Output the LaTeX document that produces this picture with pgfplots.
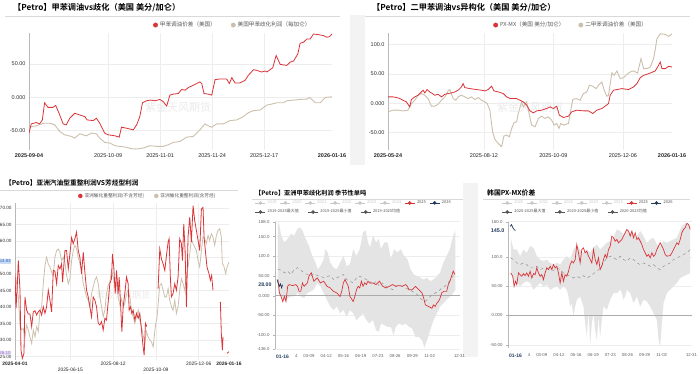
\documentclass[border=0pt]{standalone}
\usepackage{pgfplots}
\pgfplotsset{compat=1.18}
\usepackage{fontspec}
\setmainfont{Liberation Sans}
\newfontfamily\cjk{Noto Sans CJK SC}
\IfFontExistsTF{Noto Sans CJK SC Bold}
  {\newfontfamily\cjkb{Noto Sans CJK SC Bold}}
  {\newfontfamily\cjkb{Noto Sans CJK SC}[FakeBold=2]}
\definecolor{myred}{RGB}{218,52,56}
\definecolor{mybeige}{RGB}{204,192,172}
\definecolor{navy}{RGB}{36,60,92}
\definecolor{lgray}{RGB}{200,200,200}
\definecolor{dgray}{RGB}{85,85,85}
\definecolor{bandc}{RGB}{228,228,228}
\definecolor{stripc}{RGB}{243,243,243}
\definecolor{hlblue}{RGB}{200,220,246}
\definecolor{hlbluet}{RGB}{50,100,190}
\definecolor{hlpur}{RGB}{232,222,246}
\definecolor{hlpurt}{RGB}{150,120,200}
\newcommand{\fs}[1]{\fontsize{#1}{#1}\selectfont}
\setlength{\fboxsep}{0.7pt}
\pgfplotsset{
  base/.style={scale only axis, anchor=south west, enlargelimits=false,
    axis lines*=left, x axis line style={draw=none},
    y axis line style={draw=gray!55, line width=0.8pt},
    legend columns=-1, legend cell align=left,
    legend image code/.code={\fill[##1] (2.2pt,0pt) circle (2.2pt);},
    legend style={draw=none, fill=none, inner sep=0pt},
    major grid style={draw=gray!14, line width=0.5pt},
  },
  seas/.style={base, xmin=0, xmax=365,
    tick align=outside, major tick length=2pt,
    xtick style={draw=none}, ytick style={draw=gray!60, line width=0.4pt},
    xtick={15,42,67,101,135,169,203,237,271,305,364},
    xticklabels={\textcolor{navy}{\bfseries\fs{5}01-16},4,03-09,04-12,05-16,06-19,07-23,08-26,09-29,11-02,12-31},
    xticklabel style={font=\fs{4.3}, text=gray!75!black},
    yticklabel style={font=\fs{4.3}, text=gray!75!black},
    extra y tick style={grid=none, major tick length=0pt},
    ymajorgrids,
    legend image code/.code={\draw[##1, line width=0.5pt] (0pt,0pt) -- (10pt,0pt); \fill[##1] (5pt,0pt) circle (1.6pt);},
    legend style={font=\cjk\fs{4}, /tikz/every even column/.append style={column sep=1.5pt}},
  },
  hid/.style={scale only axis, anchor=south west, hide axis, xmin=0, xmax=1, ymin=0, ymax=1,
    legend columns=-1, legend cell align=left,
    legend image code/.code={\draw[##1, line width=0.5pt] (0pt,0pt) -- (10pt,0pt); \fill[##1] (5pt,0pt) circle (1.6pt);},
    legend style={draw=none, fill=none, inner sep=0pt, font=\cjk\fs{4}, text=dgray, /tikz/every even column/.append style={column sep=7pt}},
  },
}
\begin{document}
\begin{tikzpicture}[x=1pt,y=1pt]
\useasboundingbox (0,0) rectangle (700,373);
\fill[white] (0,0) rectangle (700,373);
\fill[stripc] (350,208) rectangle (365,358);
\fill[stripc] (463,16) rectangle (478,190);
% titles and rules
\node[anchor=west, font=\cjkb\fs{8.2}, inner sep=0pt] at (13,365) {【Petro】甲苯调油vs歧化（美国 美分/加仑）};
\draw[gray!30, line width=0.6pt] (5,357) -- (340,357);
\node[anchor=west, font=\cjkb\fs{8.2}, inner sep=0pt] at (372,365) {【Petro】二甲苯调油vs异构化（美国 美分/加仑）};
\draw[gray!30, line width=0.6pt] (365,357) -- (690,357);
\node[anchor=west, font=\cjkb\fs{6.7}, inner sep=0pt] at (5,190) {【Petro】亚洲汽油型重整利润VS芳烃型利润};
\draw[gray!30, line width=0.6pt] (0,183) -- (238,183);
\node[anchor=west, font=\cjkb\fs{6.2}, inner sep=0pt] at (255,180) {【Petro】亚洲甲苯歧化利润 季节性单吨};
\draw[gray!30, line width=0.6pt] (252,174) -- (463,174);
\node[anchor=west, font=\cjkb\fs{6.8}, inner sep=0pt] at (487,180) {韩国PX-MX价差};
\draw[gray!30, line width=0.6pt] (483,174) -- (690,174);
% watermarks
\node[font=\cjk\fs{11}, text=gray!16] at (178,266) {紫金天风期货};
\node[font=\cjk\fs{11}, text=gray!16] at (530,266) {紫金天风期货};
\node[font=\cjk\fs{9}, text=gray!16] at (123,78) {紫金天风期货};
\node[font=\cjk\fs{9}, text=gray!16] at (357,96) {紫金天风期货};
\node[font=\cjk\fs{9}, text=gray!16] at (587,96) {紫金天风期货};

% ---------------- Panel 1
\begin{axis}[base, at={(29pt,223pt)}, width=303pt, height=117pt,
  xmin=0, xmax=134, ymin=-80, ymax=97,
  major tick length=0pt,
  xtick={35,58,81,104},
  xticklabels={2025-10-09,2025-11-01,2025-11-24,2025-12-17},
  extra x ticks={0,134},
  extra x tick labels={\textbf{2025-09-04},\textbf{2026-01-16}},
  extra x tick style={grid=none},
  ytick={-50,0,50}, yticklabels={-50.00,0.000,50.00},
  xmajorgrids, ymajorgrids,
  xticklabel style={font=\fs{5.5}, text=black!85},
  yticklabel style={font=\fs{5.5}, text=black!80},
  legend style={at={(0.409,1.068)}, anchor=west, font=\cjk\fs{5.6}, text=black!65,
    /tikz/every even column/.append style={column sep=13pt}},
]
\addlegendimage{myred}\addlegendentry{甲苯调油价差（美国）}
\addlegendimage{mybeige}\addlegendentry{美国甲苯歧化利润（每加仑）}
\addplot[mybeige, line width=0.9pt, forget plot] coordinates {
(0,-47) (1.0,-44.5) (3.2,-43.5) (5.5,-40.5) (6.9,-39.5) (9.2,-39.5) (11.4,-42) (13.6,-52) (15.8,-57) (18.8,-59.5) (20.2,-62) (22.5,-55.5) (23.9,-57) (25.4,-58.5) (27.6,-54.5) (29.8,-55.5) (31.3,-62) (33.5,-68.5) (35.7,-69.5) (38.0,-73.5) (40.2,-74.5) (42.4,-75.5) (45.3,-78) (47.6,-78.5) (50.5,-77) (53.5,-73.5) (56.4,-74.5) (59.4,-74.5) (61.6,-72) (63.8,-68.5) (66.8,-67) (69.7,-60.5) (72.7,-59.5) (75.6,-49.5) (77.8,-40.5) (79.3,-43.5) (80.8,-45.5) (83.0,-40.5) (86.0,-40.5) (88.9,-35.5) (91.9,-34.5) (94.8,-29.5) (97.0,-23.5) (99.3,-20.5) (102.2,-19.5) (105.2,-12) (107.4,-10.5) (109.6,-8.5) (112.5,-8.5) (114.0,-5.5) (117.0,-4.5) (119.9,-3.5) (122.9,-3) (124.1,-0.5) (125.1,-3.5) (126.6,-8.5) (128.8,-8.5) (131.0,-0.5) (134.0,0.5)};
\addplot[myred, line width=0.8pt, forget plot] coordinates {
(0,-54.5) (1.0,-40.5) (3.2,-38.5) (4.7,-40.5) (5.9,-34.5) (6.9,-8.5) (8.4,-15.5) (10.6,-15.5) (11.8,-12.5) (13.3,-24.5) (15.1,-40.5) (16.5,-42) (18.0,-32) (20.2,-24.5) (22.5,-27) (24.7,-29.5) (25.7,-34.5) (28.4,-35.5) (29.8,-32) (31.3,-39.5) (33.5,-54.5) (35.0,-57) (38.0,-58.5) (39.9,-60.5) (40.9,-45.5) (43.1,-47) (46.1,-49.5) (47.6,-42) (49.0,-29.5) (50.2,-8.5) (52.0,-5.5) (53.8,-4.5) (55.7,-5.5) (57.9,-3.5) (59.4,-7) (60.9,-13.5) (62.3,3) (63.8,4.5) (66.0,5.5) (67.5,11.5) (69.0,10.5) (70.5,14.5) (72.7,18) (74.1,20.5) (75.6,23) (76.4,20.5) (77.4,5.5) (79.3,4.5) (80.8,3) (82.3,26.5) (84.5,27.5) (87.4,27.5) (88.6,20.5) (89.7,29.5) (91.1,21.5) (93.3,21.5) (95.6,25.5) (97.0,33) (99.3,41.5) (100.7,40.5) (102.9,38) (104.4,39.5) (105.2,38) (106.6,41.5) (107.8,44.5) (109.3,63) (111.1,49.5) (114.0,48) (115.5,53) (117.0,54.5) (118.9,65.5) (119.9,81.5) (121.4,83) (122.9,88) (124.4,88) (125.8,95.5) (128.1,94.5) (130.3,93) (131.7,90.5) (132.9,91.5) (134.0,95.5)};
\end{axis}

% ---------------- Panel 2
\begin{axis}[base, at={(388pt,223pt)}, width=284pt, height=117pt,
  xmin=0, xmax=237, ymin=-80, ymax=120,
  major tick length=0pt,
  xtick={80,138,196},
  xticklabels={2025-08-12,2025-10-09,2025-12-06},
  extra x ticks={0,237},
  extra x tick labels={\textbf{2025-05-24},\textbf{2026-01-16}},
  extra x tick style={grid=none},
  ytick={-50,0,50,100}, yticklabels={-50.00,0.000,50.00,100.0},
  xmajorgrids, ymajorgrids,
  xticklabel style={font=\fs{5.5}, text=black!85},
  yticklabel style={font=\fs{5.5}, text=black!80},
  legend style={at={(0.370,1.068)}, anchor=west, font=\cjk\fs{5.6}, text=black!65,
    /tikz/every even column/.append style={column sep=12pt}},
]
\addlegendimage{myred}\addlegendentry{PX-MX（美国 美分/加仑）}
\addlegendimage{mybeige}\addlegendentry{二甲苯调油价差（美国）}
\addplot[mybeige, line width=0.9pt, forget plot] coordinates {
(0,-14.8) (4.2,-11.9) (8.4,-11.9) (12.5,-13.1) (16.7,-11.9) (19.5,-0.6) (22.3,5.1) (25.1,13.6) (27.9,16.5) (30.7,13.6) (33.5,8.0) (36.2,-5.1) (39.0,-5.1) (41.8,-1.7) (44.6,5.1) (47.4,10.8) (50.2,21.0) (51.6,23.3) (54.4,8.0) (56.6,5.1) (58.5,10.8) (61.3,13.6) (64.1,10.8) (66.9,8.0) (69.7,10.8) (72.5,6.2) (75.3,9.7) (78.1,5.1) (80.9,2.3) (82.8,-0.6) (85.0,-11.9) (87.3,-48.8) (89.2,-61.9) (92.0,-68.7) (94.8,-74.4) (96.7,-56.2) (99.0,-54.5) (101.2,-57.4) (103.2,-43.2) (105.1,-33.5) (107.3,-31.8) (108.7,-17.6) (111.5,2.3) (112.9,-6.2) (115.7,2.3) (117.1,-11.9) (119.9,-37.5) (122.7,-40.3) (125.5,-26.1) (128.2,-22.2) (131.0,-26.1) (133.8,-23.3) (136.6,-29.0) (138.6,-37.5) (140.8,-34.6) (142.7,-43.2) (144.1,-34.6) (146.4,-37.5) (150.6,-34.6) (152.5,-11.9) (154.2,6.2) (157.0,8.0) (160.3,5.1) (163.1,16.5) (165.9,19.3) (168.1,30.7) (170.9,29.0) (173.7,25.0) (175.6,30.7) (178.4,36.4) (180.4,22.2) (182.6,11.9) (184.0,13.6) (186.8,51.7) (188.7,47.7) (191.0,55.1) (193.8,42.0) (196.6,43.7) (199.3,49.4) (202.1,53.4) (204.9,55.1) (208.3,51.7) (211.1,76.1) (213.3,59.1) (216.1,59.1) (218.9,61.9) (221.6,76.1) (223.0,91.4) (224.4,110.2) (227.2,118.7) (231.4,117.6) (234.2,114.2) (237.0,118.7)};
\addplot[myred, line width=0.8pt, forget plot] coordinates {
(0,10.8) (4.2,10.8) (7.0,9.7) (9.8,8.0) (12.5,5.1) (15.3,2.3) (18.1,-6.2) (19.5,6.2) (22.3,10.8) (25.1,13.6) (27.0,17.6) (29.3,22.2) (30.7,17.6) (32.6,23.3) (34.8,19.3) (37.1,16.5) (39.0,13.6) (41.8,15.3) (44.6,10.8) (47.4,15.3) (50.2,16.5) (53.0,17.6) (55.8,19.3) (58.5,22.2) (61.3,27.8) (62.7,33.5) (64.1,26.7) (68.3,25.0) (73.9,23.3) (78.1,22.2) (80.9,21.0) (83.6,23.3) (86.4,29.0) (88.4,21.0) (92.0,19.3) (96.2,16.5) (99.0,10.8) (101.8,8.0) (107.3,8.0) (110.1,5.1) (112.9,2.3) (115.7,-3.4) (118.5,-13.1) (121.3,-16.5) (124.1,-13.1) (128.2,-11.9) (132.4,-9.1) (135.2,-6.2) (138.0,-9.1) (140.8,-5.1) (143.0,-20.4) (146.4,-24.4) (150.6,-22.2) (153.3,-14.8) (157.5,-11.9) (163.1,-13.1) (167.3,-13.1) (170.9,-17.6) (174.3,-11.9) (178.4,-9.1) (181.2,-5.1) (184.0,-0.6) (185.4,13.6) (188.2,22.2) (191.0,23.3) (195.2,25.0) (200.7,23.3) (204.9,27.8) (207.7,33.5) (210.5,43.7) (213.3,47.7) (216.1,49.4) (218.9,51.7) (223.0,55.1) (225.8,64.8) (227.2,70.4) (228.6,59.1) (231.4,59.1) (234.2,63.0) (237.0,61.9)};
\end{axis}

% ---------------- Panel 3
\begin{axis}[base, at={(15pt,13pt)}, width=214pt, height=157pt,
  xmin=0, xmax=290, ymin=24, ymax=71.5,
  major tick length=0pt,
  xtick={75,133,191,249},
  xticklabels={{\rule{0pt}{3.6pt}\\2025-06-15},2025-08-12,{\rule{0pt}{3.6pt}\\2025-10-09},2025-12-06},
  extra x ticks={0,290},
  extra x tick labels={\textbf{2025-04-01},\textbf{2026-01-16}},
  extra x tick style={grid=none},
  ytick={25,30,35,40,45,50,55,60,65,70},
  yticklabels={25.00,30.00,35.00,40.00,45.00,50.00,,60.00,65.00,70.00},
  extra y ticks={53.83,26.1},
  extra y tick labels={{\colorbox{hlblue}{\textcolor{hlbluet}{53.83}}},{\colorbox{hlpur}{\textcolor{hlpurt}{26.10}}}},
  extra y tick style={grid=none},
  xmajorgrids, ymajorgrids,
  xticklabel style={font=\fontsize{4.9}{6.2}\selectfont, text=black!85, align=center, inner sep=1.8pt},
  yticklabel style={font=\fs{4.6}, text=black!80},
  legend style={at={(0.294,1.045)}, anchor=west, font=\cjk\fs{4.7}, text=black!65,
    /tikz/every even column/.append style={column sep=8pt}},
  legend image code/.code={\fill[#1] (2pt,0pt) circle (2pt);},
  unbounded coords=jump,
]
\addlegendimage{myred}\addlegendentry{亚洲催化重整利润(不含芳烃)}
\addlegendimage{mybeige}\addlegendentry{亚洲催化重整利润(含芳烃)}
\addplot[mybeige, line width=0.8pt, forget plot] coordinates {
(0,50.1) (2.3,47.1) (4.5,43.1) (6.8,34.1) (9.0,33.1) (11.3,33.6) (13.5,31.0) (15.8,34.6) (18.0,33.1) (20.3,31.0) (22.6,29.0) (24.8,33.1) (27.1,31.0) (29.3,34.1) (31.6,32.6) (33.8,38.6) (36.1,40.1) (38.3,47.1) (40.6,52.6) (42.8,55.1) (45.1,53.1) (47.4,52.1) (49.6,50.6) (51.9,49.6) (54.1,55.1) (56.4,57.1) (58.6,57.6) (60.9,56.6) (63.1,54.1) (65.4,55.1) (67.7,53.6) (69.9,49.6) (72.2,47.1) (74.4,48.6) (76.7,54.1) (78.9,57.1) (81.2,58.7) (83.4,57.7) (85.7,55.1) (87.9,53.1) (90.2,51.1) (92.5,47.1) (94.7,45.1) (97.0,43.1) (99.2,42.1) (101.5,40.1) (103.7,44.1) (106.0,46.1) (108.2,48.1) (110.5,49.1) (112.8,47.1) (115.0,43.1) (117.3,40.1) (119.5,37.1) (121.8,39.1) (124.0,44.1) (126.3,46.6) (128.5,47.6) (130.8,51.1) (133.0,49.1) (135.3,46.1) (137.6,47.1) (139.8,43.1) (142.1,40.6) (144.3,42.6) (146.6,40.1) (148.8,41.1) (151.1,44.1) (153.3,45.1) (155.6,43.1) (157.9,39.1) (160.1,37.1) (162.4,35.1) (164.6,37.1) (166.9,39.1) (169.1,36.1) (171.4,34.1) (173.6,31.5) (175.9,29.0) (178.1,32.6) (180.4,31.0) (182.7,30.0) (184.9,29.5) (187.2,28.0) (189.4,32.6) (190.8,35.1) (192.6,37.1) (194.4,42.1) (196.2,46.6) (198.4,47.1) (200.7,45.1) (203.0,43.1) (205.2,43.1) (207.5,45.6) (209.7,42.1) (212.0,40.1) (214.2,39.1) (216.5,42.1) (218.7,38.1) (221.0,40.1) (223.2,45.1) (225.5,48.6) (227.8,47.1) (230.0,45.1) (232.3,49.1) (234.5,52.1) (236.8,56.1) (239.0,60.7) (241.3,59.2) (243.5,58.2) (245.8,57.1) (248.1,54.1) (250.3,52.1) (252.6,57.1) (254.8,61.2) (257.1,60.7) (259.3,59.2) (261.6,61.7) (263.8,60.2) (266.1,62.2) (268.3,61.2) (270.6,58.7) (272.9,61.7) (275.1,63.2) (277.4,63.7) (279.6,61.2) (281.0,53.1) (282.8,52.6) (285.5,50.1) (287.3,52.1) (290.0,53.6)};
\addplot[myred, line width=0.8pt, forget plot] coordinates {
(0,50.1) (1.4,39.6) (3.2,47.1) (4.5,54.1) (6.8,45.1) (8.1,27.0) (9.9,24.5) (12.2,26.0) (13.5,43.1) (15.8,39.1) (18.0,37.9) (20.3,37.9) (22.6,34.1) (24.8,38.6) (27.1,38.9) (29.3,37.6) (31.6,38.6) (33.8,39.1) (36.1,37.6) (38.3,40.1) (40.6,38.1) (42.8,40.1) (45.1,45.1) (47.4,42.1) (49.6,38.6) (51.9,51.1) (54.1,50.9) (56.4,47.1) (58.6,52.6) (60.9,51.6) (63.1,53.1) (64.5,47.6) (67.7,57.1) (69.9,57.1) (72.2,51.6) (74.4,56.1) (76.7,61.0) (78.9,59.2) (81.2,60.7) (83.4,62.7) (85.7,57.1) (87.9,55.1) (90.2,50.1) (92.5,56.6) (94.7,50.6) (97.0,45.1) (99.2,43.1) (101.5,40.1) (103.7,37.1) (106.0,43.1) (108.2,42.1) (110.5,40.1) (112.8,35.1) (115.0,34.6) (117.3,35.6) (119.5,33.1) (121.8,36.6) (124.0,36.1) (126.3,41.6) (128.5,47.1) (130.8,48.6) (132.1,56.1) (133.9,52.1) (135.8,44.1) (137.6,51.1) (139.8,44.1) (141.2,49.1) (143.0,41.1) (144.8,32.6) (146.6,40.1) (148.8,44.1) (151.1,49.1) (153.3,47.1) (154.7,39.1) (156.5,40.1) (158.3,38.1) (160.1,39.1) (162.4,36.1) (164.6,38.1) (166.9,36.6) (169.1,38.1) (171.4,33.1) (173.6,28.0) (175.0,25.5) (176.8,35.1) (178.6,34.1) (185,nan) (193.9,45.6) (196.2,57.6) (198.4,54.6) (200.7,53.1) (203.0,51.1) (205.2,55.6) (207.5,59.7) (208.8,60.7) (210.6,48.6) (212.0,43.1) (214.2,44.1) (216.5,47.1) (218.7,45.1) (221.0,49.1) (223.2,60.7) (225.5,59.2) (226.9,54.1) (228.7,65.2) (230.5,57.1) (232.3,40.1) (234.5,61.2) (236.8,67.2) (239.0,59.7) (241.3,70.7) (243.5,66.2) (245.8,63.2) (248.1,60.2) (250.3,57.1) (252.6,69.7) (254.8,70.2) (256.2,61.2) (258.4,56.1) (260.2,52.1) (262.9,50.1) (264.7,48.1) (266.5,49.6) (268.3,45.1) (273,nan) (278.3,41.6) (279.6,32.0) (281.0,27.0) (281.9,31.0) (284,nan) (287.3,26.0) (290.0,26.5)};
\end{axis}

% ---------------- Panel 4
\begin{axis}[seas, at={(275pt,23.7pt)}, width=185pt, height=127.6pt,
  ymin=-136, ymax=188,
  ytick={-136,-100,-50,0,50,100,150,188},
  yticklabels={-136.0,-100.0,-50.00,0.000,50.00,100.0,150.0,188.0},
  extra y ticks={28}, extra y tick labels={\textcolor{navy}{\bfseries\fs{5.2}28.00}},
  legend style={at={(-0.108,1.147)}, anchor=west},
]
\addlegendimage{lgray}\addlegendentry{\textcolor{lgray}{2019}}
\addlegendimage{lgray}\addlegendentry{\textcolor{lgray}{2020}}
\addlegendimage{lgray}\addlegendentry{\textcolor{lgray}{2021}}
\addlegendimage{lgray}\addlegendentry{\textcolor{lgray}{2022}}
\addlegendimage{lgray}\addlegendentry{\textcolor{lgray}{2023}}
\addlegendimage{lgray}\addlegendentry{\textcolor{lgray}{2024}}
\addlegendimage{myred}\addlegendentry{\textcolor{dgray}{2025}}
\addlegendimage{navy}\addlegendentry{\textcolor{dgray}{2026}}
% range band: 2019-2025 max (forward) then min (backward)
\addplot[fill=bandc, draw=none, forget plot] coordinates {
(5.6,188) (8.8,178.4) (12.0,152.7) (18.5,135.5) (25.0,144.1) (31.4,156.9) (37.9,152.7) (44.4,169.8) (49.5,173.2) (54.1,165.5) (60.5,144.1) (67.0,126.9) (73.5,101.2) (79.9,84.0) (84.5,66.9) (89.6,75.5) (96.1,92.6) (99.3,118.4) (103.8,109.8) (109.0,84.0) (115.5,71.2) (121.9,66.9) (128.4,84.0) (134.9,101.2) (141.3,75.5) (147.8,79.8) (154.3,118.4) (160.8,101.2) (167.2,118.4) (173.7,161.2) (178.9,165.5) (183.4,135.5) (187.9,122.6) (193.1,152.7) (199.5,135.5) (204.7,144.1) (209.2,118.4) (215.7,135.5) (222.2,135.5) (228.7,92.6) (235.1,118.4) (241.6,109.8) (248.1,118.4) (254.5,101.2) (261.0,92.6) (267.5,66.9) (274.0,54.0) (280.4,49.7) (286.9,45.5) (293.4,41.2) (299.8,45.5) (306.3,36.9) (312.8,41.2) (319.3,49.7) (325.7,58.3) (332.2,84.0) (338.7,101.2) (345.1,118.4) (351.6,152.7) (356.1,165.5)
(356.1,15.4) (351.6,6.9) (345.1,-1.7) (338.7,-10.3) (332.2,-18.9) (325.7,-27.4) (319.3,-44.6) (312.8,-61.7) (306.3,-87.5) (299.8,-113.2) (294.7,-132.1) (290.1,-113.2) (283.7,-104.6) (277.2,-104.6) (270.7,-83.2) (264.3,-78.9) (257.8,-70.3) (251.3,-74.6) (244.8,-70.3) (238.4,-78.9) (233.8,-100.3) (228.7,-78.9) (222.2,-78.9) (215.7,-74.6) (209.2,-70.3) (204.7,-91.8) (199.5,-87.5) (193.1,-61.7) (186.6,-70.3) (180.2,-61.7) (173.7,-44.6) (167.2,-53.2) (160.8,-61.7) (154.3,-44.6) (147.8,-36.0) (141.3,-53.2) (134.9,-36.0) (128.4,-44.6) (122.0,-27.4) (115.5,-36.0) (109.0,-27.4) (102.6,-10.3) (96.1,6.9) (89.6,24.0) (83.2,32.6) (76.7,15.4) (70.2,11.1) (63.8,6.9) (57.3,-6.0) (50.8,-1.7) (44.4,6.9) (37.9,-1.7) (31.4,-1.7) (25.0,-6.0) (18.5,-10.3) (12.0,-1.7) (8.8,2.6) (5.6,15.4)};
\addplot[gray!65, line width=0.5pt, forget plot] coordinates {(0,0) (365,0)};
\addplot[gray!85, dashed, line width=0.5pt, forget plot] coordinates {
(5.6,66.9) (12.0,65.2) (18.5,58.3) (25.0,62.6) (31.4,54.0) (37.9,66.9) (44.4,71.2) (50.8,65.2) (57.3,58.3) (63.8,54.0) (70.2,49.7) (76.7,56.6) (83.2,51.5) (89.6,49.7) (96.1,45.5) (102.6,48.0) (109.0,51.5) (115.5,41.2) (122.0,45.5) (128.4,49.7) (134.9,54.0) (141.3,41.2) (147.8,36.9) (154.3,32.6) (160.8,45.5) (167.2,49.7) (173.7,45.5) (180.2,41.2) (186.6,36.9) (193.1,28.3) (199.5,36.9) (206.0,24.0) (212.5,32.6) (218.9,24.0) (225.4,19.7) (231.9,15.4) (238.4,24.0) (244.8,28.3) (251.3,24.0) (257.8,19.7) (264.3,15.4) (270.7,11.1) (277.2,6.9) (283.7,-1.7) (290.1,-10.3) (296.6,-14.6) (303.1,-6.0) (309.5,2.6) (316.0,6.9) (322.5,11.1) (328.9,19.7) (335.4,24.0) (341.9,32.6) (348.3,45.5) (354.8,54.0)};
\addplot[myred, line width=0.7pt, forget plot] coordinates {
(5.6,41.2) (8.8,6.9) (12.0,-1.7) (15.3,-14.6) (18.5,-1.7) (21.7,-14.6) (25.0,24.0) (28.2,28.3) (34.7,25.7) (41.1,28.3) (44.4,24.0) (47.6,11.1) (50.8,11.1) (54.1,32.6) (57.3,24.0) (60.5,28.3) (63.8,32.6) (67.0,49.7) (71.5,58.3) (76.7,36.9) (83.2,45.5) (89.6,32.6) (96.1,36.9) (102.6,24.0) (109.0,19.7) (115.5,11.1) (122.0,6.9) (128.4,-1.7) (131.6,11.1) (134.9,32.6) (138.1,41.2) (141.3,32.6) (144.6,24.0) (147.8,-1.7) (154.3,-14.6) (157.5,-1.7) (160.8,15.4) (164.0,24.0) (167.2,19.7) (170.5,36.9) (173.7,24.0) (176.9,32.6) (180.2,28.3) (183.4,36.9) (186.6,32.6) (193.1,32.6) (199.5,28.3) (206.0,36.9) (212.5,24.0) (218.9,19.7) (225.4,24.0) (231.9,28.3) (238.4,24.0) (244.8,25.7) (251.3,24.0) (257.8,28.3) (261.0,24.0) (264.3,15.4) (270.7,15.4) (277.2,24.0) (283.7,15.4) (290.1,6.9) (293.4,-6.0) (296.6,-23.2) (303.1,-27.4) (309.5,-31.7) (312.8,-23.2) (316.0,-27.4) (319.3,-18.9) (322.5,-14.6) (325.7,-6.0) (328.9,6.9) (332.2,11.1) (338.7,11.1) (341.9,28.3) (345.1,36.9) (348.3,49.7) (351.6,62.6) (354.8,54.0)};
\addplot[navy, line width=0.7pt, forget plot] coordinates {
(4,41) (6,33) (9,24) (11,30) (13,20) (15,28)};
\end{axis}
\begin{axis}[hid, at={(275pt,23.7pt)}, width=185pt, height=127.6pt,
  legend style={at={(-0.108,1.076)}, anchor=west}]
\addplot[draw=none, forget plot] coordinates {(0,0) (1,1)};
\addlegendimage{dgray}\addlegendentry{2019-2025最大值}
\addlegendimage{dgray}\addlegendentry{2019-2025最小值}
\addlegendimage{dgray}\addlegendentry{2019-2025均值}
\end{axis}

% ---------------- Panel 5
\begin{axis}[seas, at={(508pt,24.7pt)}, width=184pt, height=126.6pt,
  ymin=-56, ymax=160,
  ytick={-50,0,50,100,160},
  yticklabels={-50.00,0.000,50.00,100.0,160.0},
  extra y ticks={145}, extra y tick labels={\textcolor{navy}{\bfseries\fs{5.4}145.0}},
  legend style={at={(-0.034,1.148)}, anchor=west},
]
\addlegendimage{lgray}\addlegendentry{\textcolor{lgray}{2020}}
\addlegendimage{lgray}\addlegendentry{\textcolor{lgray}{2021}}
\addlegendimage{lgray}\addlegendentry{\textcolor{lgray}{2022}}
\addlegendimage{lgray}\addlegendentry{\textcolor{lgray}{2023}}
\addlegendimage{lgray}\addlegendentry{\textcolor{lgray}{2024}}
\addlegendimage{myred}\addlegendentry{\textcolor{dgray}{2025}}
\addlegendimage{navy}\addlegendentry{\textcolor{dgray}{2026}}
% range band: 2020-2025 max (forward) then min (backward)
\addplot[fill=bandc, draw=none, forget plot] coordinates {
(5.5,132.6) (10.8,112.6) (17.4,112.6) (24.0,101.1) (30.6,112.6) (37.2,106.9) (43.9,118.3) (50.5,115.4) (57.1,101.1) (63.7,95.4) (70.3,92.6) (76.9,95.4) (83.6,89.7) (90.2,86.9) (96.8,89.7) (103.4,86.9) (110.0,95.4) (116.6,101.1) (123.3,95.4) (129.9,112.6) (136.5,118.3) (143.1,112.6) (149.7,106.9) (156.3,112.6) (163.0,106.9) (169.6,115.4) (176.2,121.1) (182.8,112.6) (189.4,118.3) (196.0,124.0) (202.7,126.9) (209.3,132.6) (215.9,146.9) (222.5,144.0) (229.1,138.3) (235.7,146.9) (242.4,141.1) (249.0,138.3) (255.6,135.4) (262.2,144.0) (268.8,135.4) (275.4,124.0) (282.1,129.7) (288.7,132.6) (295.3,121.1) (301.9,118.3) (308.5,126.9) (315.1,124.0) (321.8,126.9) (328.4,129.7) (335.0,132.6) (341.6,146.9) (348.2,155.4) (354.8,158.3) (361.4,152.6)
(361.4,72.6) (354.8,69.7) (348.2,66.9) (341.6,64.0) (335.0,55.4) (328.4,49.7) (321.8,44.0) (315.1,38.3) (308.5,21.1) (305.2,-13.1) (301.9,-53.1) (298.6,-41.7) (295.3,-7.4) (288.7,4.0) (282.1,15.4) (275.4,24.0) (268.8,26.9) (262.2,15.4) (255.6,32.6) (249.0,21.1) (242.4,38.3) (235.7,44.0) (232.4,32.6) (229.1,26.9) (225.8,38.3) (222.5,44.0) (215.9,38.3) (209.3,38.3) (202.7,26.9) (196.0,9.7) (189.4,15.4) (186.1,-7.4) (182.8,-36.0) (179.5,-1.7) (176.2,-41.7) (172.9,-24.6) (169.6,4.0) (166.3,-13.1) (163.0,-50.3) (159.7,9.7) (156.3,-36.0) (153.0,-13.1) (149.7,15.4) (143.1,32.6) (136.5,26.9) (133.2,15.4) (129.9,-1.7) (126.6,21.1) (123.3,15.4) (120.0,32.6) (116.6,44.0) (110.0,49.7) (103.4,44.0) (96.8,49.7) (90.2,47.0) (83.6,44.0) (76.9,52.6) (70.3,49.7) (63.7,55.4) (57.1,49.7) (50.5,44.0) (43.9,55.4) (37.2,58.3) (30.6,55.4) (24.0,49.7) (17.4,55.4) (10.8,58.3) (5.5,72.6)};
\addplot[gray!65, line width=0.5pt, forget plot] coordinates {(0,0) (365,0)};
\addplot[gray!85, dashed, line width=0.5pt, forget plot] coordinates {
(5.5,98.3) (10.8,95.4) (17.4,89.7) (24.0,86.9) (30.6,89.7) (37.2,86.9) (43.9,81.1) (50.5,81.1) (57.1,84.0) (63.7,78.3) (70.3,81.1) (76.9,81.1) (83.6,78.3) (90.2,77.1) (96.8,81.1) (103.4,78.3) (110.0,72.6) (116.6,69.7) (123.3,66.9) (129.9,64.0) (136.5,66.9) (143.1,64.0) (149.7,68.0) (156.3,64.0) (163.0,66.9) (169.6,71.4) (176.2,75.4) (182.8,81.1) (189.4,89.7) (196.0,98.3) (202.7,101.1) (209.3,98.3) (215.9,95.4) (222.5,101.1) (229.1,95.4) (235.7,92.6) (242.4,98.3) (249.0,95.4) (255.6,89.7) (262.2,86.9) (268.8,89.7) (275.4,86.9) (282.1,84.0) (288.7,86.9) (295.3,81.1) (301.9,78.3) (308.5,84.0) (315.1,86.9) (321.8,89.7) (328.4,95.4) (335.0,98.3) (341.6,101.1) (348.2,104.0) (354.8,106.9) (361.4,112.6)};
\addplot[myred, line width=0.7pt, forget plot] coordinates {
(5.5,72.6) (9.5,66.9) (12.1,49.7) (14.8,58.3) (17.4,52.6) (20.7,72.6) (24.0,69.7) (27.3,66.9) (30.6,71.4) (33.9,68.0) (37.2,72.6) (40.5,66.9) (43.9,75.4) (47.2,64.0) (50.5,71.4) (53.8,69.7) (57.1,81.1) (60.4,72.6) (63.7,66.9) (67.0,69.7) (70.3,61.1) (73.6,72.6) (76.9,81.1) (80.3,78.3) (83.6,84.0) (86.9,78.3) (90.2,86.9) (93.5,81.1) (96.8,84.0) (100.1,72.6) (103.4,55.4) (106.7,72.6) (110.0,58.3) (113.3,69.7) (116.6,66.9) (120.0,75.4) (123.3,86.9) (126.6,92.6) (129.9,89.7) (133.2,95.4) (136.5,121.1) (139.8,106.9) (143.1,89.7) (146.4,112.6) (149.7,115.4) (153.0,106.9) (156.3,109.7) (159.7,101.1) (163.0,95.4) (166.3,89.7) (169.6,112.6) (172.9,95.4) (176.2,86.9) (179.5,98.3) (182.8,78.3) (186.1,84.0) (189.4,95.4) (192.7,104.0) (196.0,98.3) (199.4,112.6) (202.7,118.3) (206.0,135.4) (209.3,132.6) (212.6,126.9) (215.9,129.7) (219.2,124.0) (222.5,126.9) (225.8,129.7) (229.1,135.4) (232.4,141.1) (235.7,146.9) (239.1,144.0) (242.4,135.4) (245.7,144.0) (249.0,132.6) (252.3,141.1) (255.6,129.7) (258.9,132.6) (262.2,126.9) (265.5,121.1) (268.8,112.6) (272.1,106.9) (275.4,101.1) (278.8,104.0) (282.1,98.3) (285.4,106.9) (288.7,101.1) (292.0,104.0) (295.3,112.6) (298.6,118.3) (301.9,124.0) (305.2,118.3) (308.5,112.6) (311.8,104.0) (315.1,101.1) (321.8,102.3) (325.1,106.9) (328.4,112.6) (331.7,118.3) (335.0,124.0) (338.3,121.1) (341.6,129.7) (344.9,141.1) (348.2,146.9) (351.5,149.7) (354.8,157.1) (358.1,155.4) (361.4,146.9)};
\addplot[navy, line width=0.7pt, forget plot] coordinates {
(4,152) (7,155) (10,149) (13,146) (15,145)};
\end{axis}
\begin{axis}[hid, at={(508pt,24.7pt)}, width=184pt, height=126.6pt,
  legend style={at={(-0.034,1.077)}, anchor=west}]
\addplot[draw=none, forget plot] coordinates {(0,0) (1,1)};
\addlegendimage{dgray}\addlegendentry{2020-2025最大值}
\addlegendimage{dgray}\addlegendentry{2020-2025最小值}
\addlegendimage{dgray}\addlegendentry{2020-2025均值}
\end{axis}
\end{tikzpicture}
\end{document}
